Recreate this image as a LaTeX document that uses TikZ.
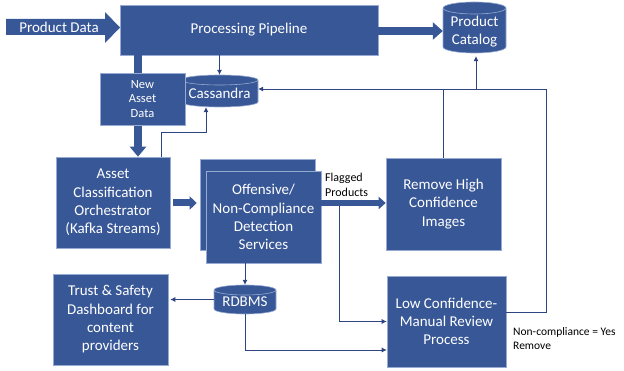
\documentclass[tikz,border=0pt]{standalone}
\usepackage{fontspec}
\setmainfont{Carlito}
\usetikzlibrary{arrows.meta}
\definecolor{boxblue}{RGB}{56,87,150}
\definecolor{boxedge}{RGB}{150,170,210}
\definecolor{linecol}{RGB}{45,68,128}
\newcommand\mycyl[5]{% x1,x2,ytop,ybottom,ry
  \pgfmathsetmacro\cylrx{(#2-#1)/2}%
  \filldraw[fill=boxblue, draw=boxedge, line width=0.6pt]
    (#1,#3+#5) -- (#1,#4-#5)
    arc[start angle=180, end angle=360, x radius=\cylrx pt, y radius=#5pt]
    -- (#2,#3+#5)
    arc[start angle=0, end angle=180, x radius=\cylrx pt, y radius=#5pt] -- cycle;
  \draw[draw=boxedge, line width=0.6pt] (#1,#3+#5)
    arc[start angle=180, end angle=360, x radius=\cylrx pt, y radius=#5pt];
}
\begin{document}
\begin{tikzpicture}[x=1pt,y=-1pt,
  box/.style={fill=boxblue, draw=boxedge, line width=0.6pt, text=white, align=center,
    inner sep=0pt, font=\fontsize{15}{18.3}\selectfont},
  cyltext/.style={text=white, align=center, inner sep=0pt, font=\fontsize{15}{18.8}\selectfont},
  area/.style={inner sep=0pt},
  conn/.style={draw=linecol, line width=0.7pt},
  tip/.style={-{Latex[length=5pt,width=5pt]}},
  fatarrow/.style={draw=boxblue, line width=#1},
  note/.style={anchor=west, align=left, inner sep=0pt, text=black}
]
\useasboundingbox (0,0) rectangle (624,371);

% ---- main boxes
\node[box, minimum width=258pt, minimum height=50pt] (pipe) at (249,30) {Processing Pipeline};
\node[box, minimum width=114pt, minimum height=91pt] (aco) at (113,202.5)
  {Asset\\Classification\\Orchestrator\\(Kafka Streams)};
\node[box, minimum width=115pt, minimum height=91pt] (offback) at (257.5,204.5) {};
\node[box, minimum width=115pt, minimum height=92pt] (offfront) at (263.5,217)
  {Offensive/\\Non-Compliance\\Detection\\Services};
\node[box, minimum width=115pt, minimum height=92pt] (remove) at (443.5,204)
  {Remove High\\Confidence\\Images};
\node[box, minimum width=115pt, minimum height=91pt] (trust) at (110.5,319.5)
  {Trust \& Safety\\Dashboard for\\content\\providers};
\node[box, minimum width=119pt, minimum height=91pt] (low) at (446.5,321.5)
  {Low Confidence-\\Manual Review\\Process};

% ---- cylinders
\mycyl{443}{506}{2}{53}{6}
\node[area, minimum width=63pt, minimum height=51pt] (catalog) at (474.5,27.5) {};
\node[cyltext] (catalogtxt) at (474.5,31.5) {Product\\Catalog};
\mycyl{181}{258}{75}{107}{5}
\node[area, minimum width=77pt, minimum height=32pt] (cass) at (219.5,91) {};
\node[cyltext] (casstxt) at (219.5,93) {Cassandra};
\mycyl{214}{276}{285}{314}{5}
\node[area, minimum width=62pt, minimum height=29pt] (rdb) at (245,299.5) {};
\node[cyltext] (rdbtxt) at (245,302) {RDBMS};

% ---- Product Data block arrow
\fill[boxblue] (6,19) -- (105,19) -- (105,12) -- (120,27.5) -- (105,43) -- (105,35) -- (6,35) -- cycle;
\node[text=white, inner sep=0pt, font=\fontsize{15}{17}\selectfont] (pd) at (59,27) {Product Data};

% ---- thick arrows
\coordinate (vx) at (138,0);
\draw[fatarrow=8pt, -{Triangle[length=10pt,width=16pt]}] (pipe.south -| vx) -- (aco.north -| vx);
\node[box, minimum width=85pt, minimum height=52pt, font=\fontsize{12.5}{14.8}\selectfont]
  (newasset) at (142.5,99) {New\\Asset\\Data};
\draw[fatarrow=8pt, -{Triangle[length=10pt,width=17pt]}] (pipe.east |- 0,31) -- (catalog.west |- 0,31);
\draw[fatarrow=7pt, -{Triangle[length=7pt,width=13pt]}] ([xshift=3pt]aco.east |- 0,203) -- ([xshift=-3pt]offback.west |- 0,203);
\draw[fatarrow=5.5pt, -{Triangle[length=7pt,width=12pt]}] (offfront.east |- 0,203) -- (remove.west |- 0,203);

% ---- thin connectors
\coordinate (rr) at (546,89);
\draw[conn,tip] (pipe.south -| cass.north) -- (cass.north);
\draw[conn,tip] ([yshift=9.5pt]low.east) -| (rr) -- (cass.east |- rr);
\draw[conn] (remove.north) -- (remove.north |- rr);
\draw[conn,tip] ([xshift=1.5pt]catalog.south |- rr) -- ([xshift=1.5pt,yshift=-3pt]catalog.south);
\coordinate (ac1) at (161,132);
\draw[conn,tip] (aco.north -| ac1) -- (ac1) -| ([xshift=-13.5pt]cass.south);
\draw[conn,tip] (offfront.south -| rdb.north) -- (rdb.north);
\draw[conn,tip] (rdb.west) -- ([xshift=2pt]trust.east |- rdb.west);
\draw[conn,tip] (rdb.south) |- ([yshift=-28.5pt]low.west);
\coordinate (fl) at (339,206);
\draw[conn,tip] (fl) |- (low.west);

% ---- labels
\node[note, font=\fontsize{12}{15}\selectfont] (flag) at (325,184.5) {Flagged\\Products};
\node[note, font=\fontsize{11.5}{13.5}\selectfont] (nc) at (513,338.5) {Non-compliance = Yes\\Remove};
\end{tikzpicture}
\end{document}
